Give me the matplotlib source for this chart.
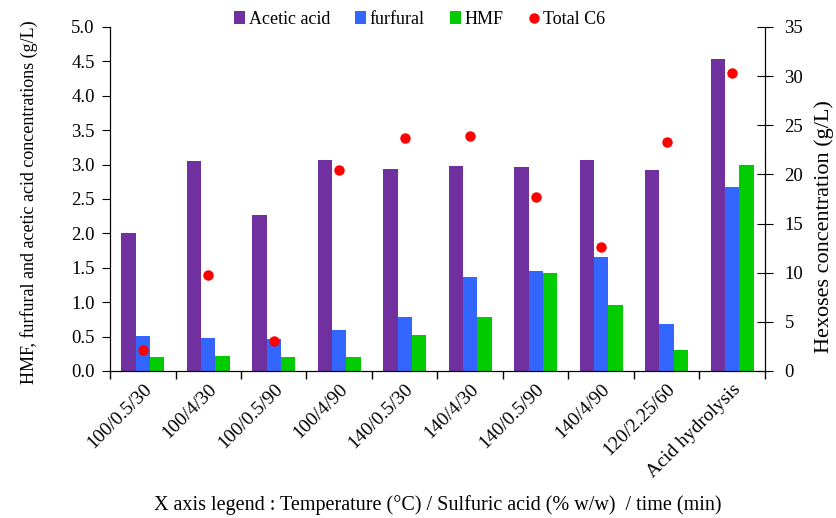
import numpy as np
import matplotlib
matplotlib.use("Agg")
import matplotlib.pyplot as plt
from matplotlib.ticker import FormatStrFormatter

plt.rcParams['font.family'] = ['Liberation Serif', 'DejaVu Serif']

conditions = ['100/0.5/30', '100/4/30', '100/0.5/90', '100/4/90', '140/0.5/30',
              '140/4/30', '140/0.5/90', '140/4/90', '120/2.25/60', 'Acid hydrolysis']
acetic = [2.01, 3.05, 2.27, 3.07, 2.94, 2.98, 2.96, 3.07, 2.92, 4.53]
furfural = [0.51, 0.48, 0.46, 0.60, 0.79, 1.37, 1.46, 1.65, 0.68, 2.67]
hmf = [0.21, 0.22, 0.21, 0.21, 0.53, 0.78, 1.42, 0.96, 0.30, 3.00]
total_c6 = [2.1, 9.8, 3.05, 20.4, 23.7, 23.9, 17.7, 12.6, 23.3, 30.3]

fig = plt.figure(figsize=(8.36, 5.18), dpi=100)
ax = fig.add_axes([0.1316, 0.2838, 0.7834, 0.6642])
x = np.arange(len(conditions))
w = 0.22

b1 = ax.bar(x - w, acetic, w, color='#7030A0', label='Acetic acid')
b2 = ax.bar(x, furfural, w, color='#3366FF', label='furfural')
b3 = ax.bar(x + w, hmf, w, color='#00CC00', label='HMF')

ax.set_xlim(-0.5, len(conditions) - 0.5)
ax.set_ylim(0, 5)
ax.set_yticks(np.arange(0, 5.01, 0.5))
ax.yaxis.set_major_formatter(FormatStrFormatter('%.1f'))
ax.set_xticks(np.arange(-0.5, len(conditions), 1.0))
ax.set_xticklabels([])
ax.set_xticks(x, minor=True)
ax.set_xticklabels(conditions, minor=True, rotation=45, ha='right',
                   rotation_mode='anchor', fontsize=14)
ax.tick_params(axis='x', which='minor', length=0, pad=7)
ax.tick_params(axis='x', which='major', length=6, width=1)
ax.tick_params(axis='y', labelsize=13.5, length=6, direction='out', pad=5)
ax.spines['top'].set_visible(False)
ax.set_ylabel('HMF, furfural and acetic acid concentrations (g/L)', fontsize=13)
ax.yaxis.set_label_coords(-0.110, 0.49)
ax.set_xlabel('X axis legend : Temperature (°C) / Sulfuric acid (% w/w)  / time (min)',
              fontsize=14.5)
ax.xaxis.set_label_coords(0.5, -0.36)

ax2 = ax.twinx()
ax2.set_ylim(0, 35)
ax2.set_yticks(np.arange(0, 36, 5))
dots = ax2.plot(x, total_c6, 'o', color='#FF0000', markersize=6.5, label='Total C6')
ax2.spines['top'].set_visible(False)
ax2.tick_params(axis='y', labelsize=13.5, length=12, direction='inout', pad=8)
ax2.set_ylabel('Hexoses concentration (g/L)', fontsize=16)
ax2.yaxis.set_label_coords(1.076, 0.42)

handles = [b1, b2, b3, dots[0]]
fig.legend(handles, [h.get_label() for h in handles], loc='upper center',
           bbox_to_anchor=(0.502, 1.01), ncol=4, frameon=False, fontsize=13,
           handlelength=0.6, handleheight=0.7, handletextpad=0.2, columnspacing=1.4)

fig.savefig('out.png', dpi=100)
